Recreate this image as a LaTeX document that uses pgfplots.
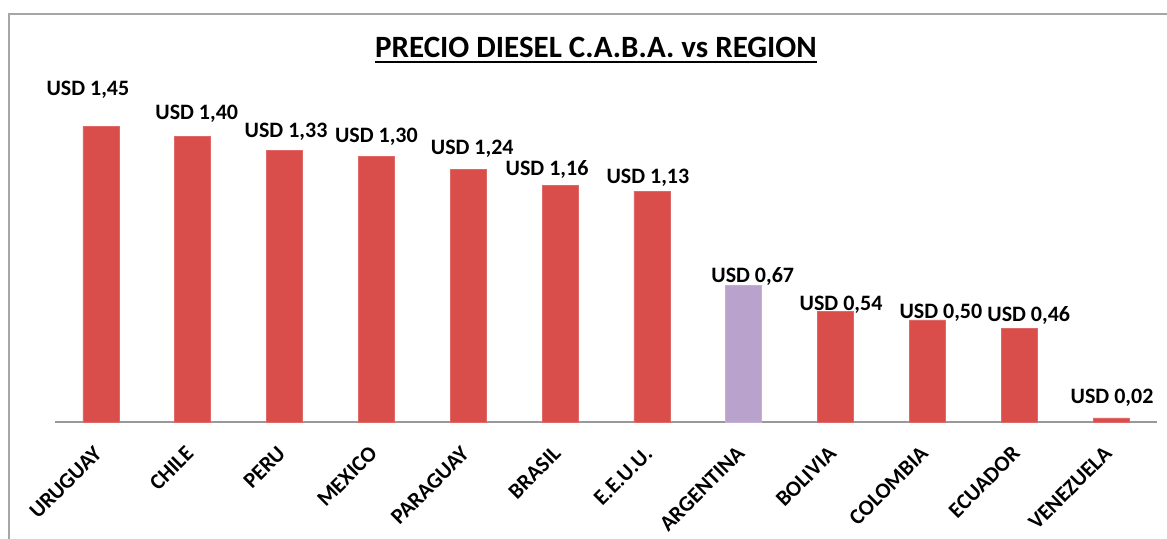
\documentclass[border=0pt]{standalone}
\usepackage{fontspec}
\setmainfont{Carlito}
\usepackage{pgfplots}
\usepackage{pgfplotstable}
\pgfplotsset{compat=1.18}
\definecolor{barred}{HTML}{D94E4B}
\definecolor{barpurple}{HTML}{B9A3CC}
\definecolor{framegray}{HTML}{A6A6A6}

\pgfplotstableread{
x y dx dy
0 1.45 -13 31
1 1.40 4 17
2 1.33 1.5 13
3 1.30 0 14
4 1.24 4 15
5 1.16 -13 10
6 1.13 -4 8
8 0.54 5.5 1
9 0.50 13.5 1
10 0.46 9.5 7
11 0.02 1 14
}\redtable
\pgfplotstableread{
x y dx dy
7 0.67 9 3
}\purpletable

\begin{document}
\begin{tikzpicture}
\path[use as bounding box] (0,0) rectangle (1167pt,538pt);
\fill[white] (0,0) rectangle (1167pt,538pt);
\draw[framegray, line width=2pt] (9pt,-5pt) -- (9pt,524pt) -- (1180pt,524pt);
\node[anchor=base, inner sep=0pt, font=\fontsize{31}{36}\selectfont\bfseries] (t) at (596pt,480pt) {PRECIO DIESEL C.A.B.A. vs REGION};
\draw[line width=1.8pt] ([yshift=-4pt]t.base west) -- ([yshift=-4pt]t.base east);
\begin{axis}[
  at={(55pt,116pt)}, anchor=south west,
  scale only axis, width=1102pt, height=367.2pt,
  xmin=-0.5, xmax=11.5, ymin=0, ymax=1.8,
  axis x line*=bottom, axis y line=none,
  x axis line style={color=gray!80, line width=1.5pt},
  ytick=\empty,
  xtick={0,...,11},
  xticklabels={URUGUAY,CHILE,PERU,MEXICO,PARAGUAY,BRASIL,E.E.U.U.,ARGENTINA,BOLIVIA,COLOMBIA,ECUADOR,VENEZUELA},
  major tick length=0pt,
  xticklabel style={xshift=-3pt, yshift=-28pt, rotate=45, anchor=east, inner sep=0pt, font=\fontsize{22}{26}\selectfont\bfseries},
  ybar, bar width=36pt, bar shift=0pt,
  visualization depends on={\thisrow{dx}\as\dx},
  visualization depends on={\thisrow{dy}\as\dy},
  nodes near coords={USD \pgfmathprintnumber[fixed,fixed zerofill,precision=2,use comma,assume math mode=true]{\pgfplotspointmeta}},
  nodes near coords style={anchor=base, inner sep=0pt, xshift=\dx pt, yshift=\dy pt, font=\fontsize{22}{26}\selectfont\bfseries, text=black},
  clip=false,
]
\addplot[fill=barred, draw=barred!85!white, line width=0.8pt] table[x=x,y=y] {\redtable};
\addplot[fill=barpurple, draw=barpurple!85!white, line width=0.8pt] table[x=x,y=y] {\purpletable};
\end{axis}
\end{tikzpicture}
\end{document}
